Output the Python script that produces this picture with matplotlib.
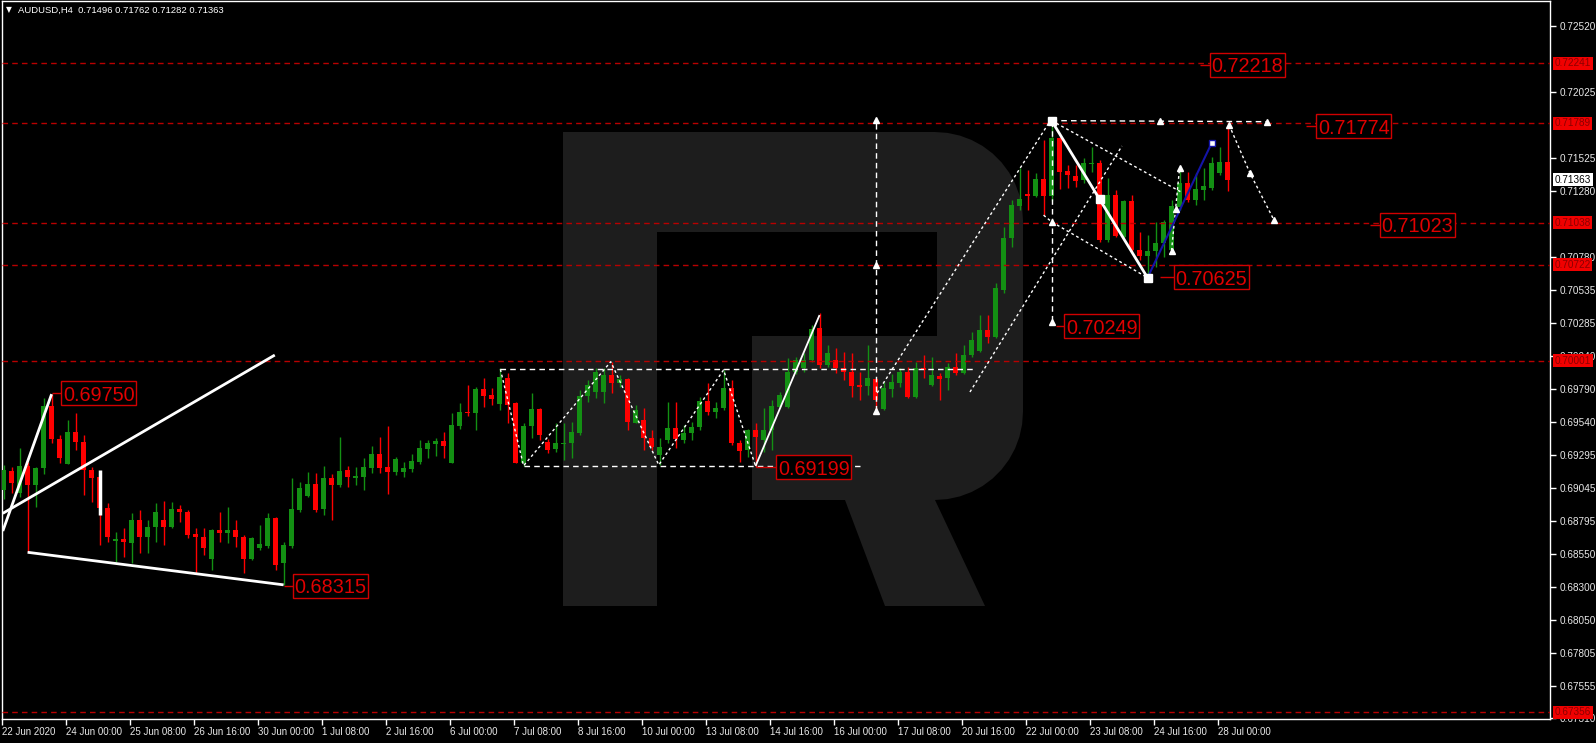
"""AUDUSD H4 chart, MT4 style"""
import numpy as np
import matplotlib
matplotlib.use("Agg")
import matplotlib.pyplot as plt
from matplotlib import font_manager
from matplotlib.patches import Rectangle, Polygon

W, H = 1596, 743

# ---- data -------------------------------------------------------------
opens = [0.69028, 0.69171, 0.69008, 0.69209, 0.69066, 0.69191, 0.69660, 0.69410, 0.69224, 0.69462,
         0.69392, 0.69179, 0.69129, 0.68891, 0.68645, 0.68660, 0.68632, 0.68803, 0.68677, 0.68748,
         0.68803, 0.68753, 0.68886, 0.68860, 0.68697, 0.68677, 0.68509, 0.68728, 0.68707, 0.68728,
         0.68677, 0.68509, 0.68595, 0.68610, 0.68815, 0.68477, 0.68610, 0.68878, 0.68986, 0.69074,
         0.68883, 0.69121, 0.69066, 0.69179, 0.69121, 0.69129, 0.69197, 0.69299, 0.69204, 0.69164,
         0.69164, 0.69184, 0.69242, 0.69340, 0.69375, 0.69397, 0.69234, 0.69510, 0.69618, 0.69611,
         0.69789, 0.69743, 0.69676, 0.69869, 0.69681, 0.69234, 0.69510, 0.69636, 0.69392, 0.69335,
         0.69378, 0.69380, 0.69460, 0.69736, 0.69769, 0.69769, 0.69894, 0.69831, 0.69861, 0.69535,
         0.69555, 0.69417, 0.69290, 0.69405, 0.69493, 0.69405, 0.69455, 0.69500, 0.69698, 0.69618,
         0.69643, 0.69794, 0.69380, 0.69329, 0.69480, 0.69405, 0.69480, 0.69656, 0.69656, 0.69919,
         0.69944, 0.70007, 0.70245, 0.69969, 0.70007, 0.69944, 0.69919, 0.69819, 0.69811, 0.69861,
         0.69636, 0.69786, 0.69836, 0.69919, 0.69731, 0.69944, 0.69819, 0.69886, 0.69869, 0.69957,
         0.69912, 0.70044, 0.70077, 0.70233, 0.70177, 0.70534, 0.70922, 0.71168, 0.71253, 0.71241,
         0.71369, 0.71241, 0.71675, 0.71431, 0.71391, 0.71361, 0.71480, 0.71487, 0.70910, 0.71248,
         0.70935, 0.71206, 0.70835, 0.70789, 0.70830, 0.70885, 0.70835, 0.71161, 0.71336, 0.71211,
         0.71286, 0.71299, 0.71416, 0.71496]
highs = [0.69217, 0.69204, 0.69342, 0.69242, 0.69204, 0.69720, 0.69750, 0.69442, 0.69555, 0.69610,
         0.69442, 0.69204, 0.69160, 0.68928, 0.68715, 0.68740, 0.68853, 0.68878, 0.68803, 0.68928,
         0.68946, 0.68936, 0.68916, 0.68878, 0.68740, 0.68740, 0.68733, 0.68866, 0.68903, 0.68803,
         0.68690, 0.68677, 0.68765, 0.68853, 0.68828, 0.68640, 0.69116, 0.69091, 0.69167, 0.69154,
         0.69209, 0.69149, 0.69430, 0.69209, 0.69204, 0.69267, 0.69360, 0.69430, 0.69510, 0.69275,
         0.69240, 0.69299, 0.69405, 0.69405, 0.69422, 0.69468, 0.69605, 0.69681, 0.69819, 0.69806,
         0.69869, 0.69794, 0.69944, 0.69907, 0.69693, 0.69530, 0.69756, 0.69643, 0.69410, 0.69530,
         0.69530, 0.69543, 0.69781, 0.69856, 0.69944, 0.69944, 0.69994, 0.69894, 0.69869, 0.69668,
         0.69643, 0.69480, 0.69417, 0.69693, 0.69693, 0.69518, 0.69543, 0.69731, 0.69831, 0.69693,
         0.69932, 0.69856, 0.69405, 0.69485, 0.69530, 0.69643, 0.69706, 0.69769, 0.70019, 0.70030,
         0.70057, 0.70270, 0.70358, 0.70120, 0.70100, 0.70070, 0.70057, 0.69919, 0.70120, 0.69869,
         0.69844, 0.69900, 0.69944, 0.69957, 0.69994, 0.70044, 0.70032, 0.69912, 0.69982, 0.70057,
         0.70120, 0.70220, 0.70345, 0.70345, 0.70589, 0.71010, 0.71211, 0.71449, 0.71437, 0.71411,
         0.71662, 0.71808, 0.71687, 0.71474, 0.71474, 0.71524, 0.71612, 0.71512, 0.71374, 0.71286,
         0.71211, 0.71248, 0.70973, 0.70947, 0.71048, 0.71060, 0.71211, 0.71462, 0.71424, 0.71411,
         0.71449, 0.71537, 0.71612, 0.71762]
lows = [0.68960, 0.69003, 0.68978, 0.68564, 0.68903, 0.69150, 0.69380, 0.69229, 0.69224, 0.69329,
        0.68991, 0.68941, 0.68615, 0.68640, 0.68489, 0.68527, 0.68477, 0.68552, 0.68552, 0.68640,
        0.68615, 0.68740, 0.68790, 0.68665, 0.68402, 0.68539, 0.68427, 0.68640, 0.68627, 0.68602,
        0.68402, 0.68502, 0.68577, 0.68590, 0.68427, 0.68315, 0.68590, 0.68866, 0.68978, 0.68866,
        0.68841, 0.68803, 0.69049, 0.69049, 0.69066, 0.69029, 0.69154, 0.69160, 0.68999, 0.69142,
        0.69124, 0.69167, 0.69224, 0.69267, 0.69285, 0.69267, 0.69229, 0.69485, 0.69585, 0.69480,
        0.69656, 0.69668, 0.69631, 0.69535, 0.69229, 0.69212, 0.69417, 0.69405, 0.69304, 0.69317,
        0.69254, 0.69267, 0.69443, 0.69693, 0.69718, 0.69681, 0.69756, 0.69806, 0.69480, 0.69530,
        0.69329, 0.69329, 0.69217, 0.69380, 0.69342, 0.69380, 0.69405, 0.69480, 0.69593, 0.69568,
        0.69631, 0.69367, 0.69242, 0.69280, 0.69199, 0.69317, 0.69330, 0.69643, 0.69643, 0.69900,
        0.69919, 0.69994, 0.69944, 0.69957, 0.69907, 0.69858, 0.69731, 0.69706, 0.69744, 0.69630,
        0.69630, 0.69731, 0.69806, 0.69718, 0.69718, 0.69869, 0.69811, 0.69706, 0.69781, 0.69894,
        0.69900, 0.70030, 0.70070, 0.70132, 0.70170, 0.70509, 0.70860, 0.71136, 0.71136, 0.71236,
        0.71098, 0.71200, 0.71291, 0.71299, 0.71306, 0.71336, 0.71424, 0.70897, 0.70897, 0.70935,
        0.70922, 0.70822, 0.70760, 0.70625, 0.70709, 0.70784, 0.70822, 0.71136, 0.71198, 0.71173,
        0.71211, 0.71286, 0.71399, 0.71282]
closes = [0.69179, 0.69084, 0.69209, 0.69066, 0.69191, 0.69660, 0.69410, 0.69267, 0.69462, 0.69392,
          0.69179, 0.69116, 0.68891, 0.68677, 0.68660, 0.68635, 0.68803, 0.68677, 0.68748, 0.68860,
          0.68753, 0.68886, 0.68860, 0.68690, 0.68672, 0.68595, 0.68728, 0.68707, 0.68728, 0.68677,
          0.68509, 0.68670, 0.68620, 0.68815, 0.68464, 0.68615, 0.68883, 0.69046, 0.69074, 0.68878,
          0.69121, 0.69066, 0.69172, 0.69124, 0.69134, 0.69204, 0.69299, 0.69197, 0.69164, 0.69259,
          0.69197, 0.69247, 0.69347, 0.69385, 0.69397, 0.69360, 0.69518, 0.69618, 0.69605, 0.69789,
          0.69736, 0.69711, 0.69876, 0.69668, 0.69234, 0.69510, 0.69636, 0.69443, 0.69329, 0.69380,
          0.69382, 0.69468, 0.69736, 0.69819, 0.69919, 0.69894, 0.69831, 0.69861, 0.69543, 0.69631,
          0.69417, 0.69350, 0.69350, 0.69493, 0.69410, 0.69460, 0.69500, 0.69698, 0.69618, 0.69643,
          0.69794, 0.69380, 0.69325, 0.69480, 0.69430, 0.69480, 0.69661, 0.69744, 0.69919, 0.70007,
          0.70007, 0.70238, 0.69969, 0.70057, 0.69944, 0.69919, 0.69811, 0.69806, 0.69869, 0.69706,
          0.69794, 0.69844, 0.69919, 0.69731, 0.69944, 0.69932, 0.69894, 0.69861, 0.69957, 0.69912,
          0.70044, 0.70157, 0.70233, 0.70177, 0.70546, 0.70922, 0.71173, 0.71218, 0.71241, 0.71369,
          0.71241, 0.71675, 0.71424, 0.71399, 0.71356, 0.71487, 0.71487, 0.70910, 0.71248, 0.70940,
          0.71206, 0.70835, 0.70789, 0.70830, 0.70890, 0.71048, 0.71166, 0.71336, 0.71211, 0.71291,
          0.71316, 0.71487, 0.71499, 0.71363]

date_labels = ["22 Jun 2020", "24 Jun 00:00", "25 Jun 08:00", "26 Jun 16:00", "30 Jun 00:00",
               "1 Jul 08:00", "2 Jul 16:00", "6 Jul 00:00", "7 Jul 08:00", "8 Jul 16:00",
               "10 Jul 00:00", "13 Jul 08:00", "14 Jul 16:00", "16 Jul 00:00", "17 Jul 08:00",
               "20 Jul 16:00", "22 Jul 00:00", "23 Jul 08:00", "24 Jul 16:00", "28 Jul 00:00"]
date_bars = list(range(0, 160, 8))

# tick labels that are not hidden under the level boxes
price_ticks = [0.72520, 0.72025, 0.71525, 0.71280, 0.70780, 0.70535,
               0.70285, 0.70040, 0.69790, 0.69540, 0.69295, 0.69045, 0.68795, 0.68550, 0.68300,
               0.68050, 0.67805, 0.67555, 0.67310]
level_prices = [0.72241, 0.71789, 0.71038, 0.70722, 0.70001, 0.67356]
last_price = 0.71363

# price label objects: (text, left bar, price, leader start bar)
price_labels = [("0.69750", 7.2, 0.69755, 6.0), ("0.68315", 36.2, 0.68310, 35.0),
                ("0.69199", 96.6, 0.69198, 94.0), ("0.72218", 150.8, 0.72230, 149.6),
                ("0.71774", 164.1, 0.71764, 162.8), ("0.71023", 172.0, 0.71026, 170.8),
                ("0.70625", 146.3, 0.70628, 144.6), ("0.70249", 132.6, 0.70259, 131.5)]

# ---- fonts ------------------------------------------------------------
names = {f.name for f in font_manager.fontManager.ttflist}
NARROW = "Liberation Sans Narrow" if "Liberation Sans Narrow" in names else "Liberation Sans"
FAM = [NARROW, "DejaVu Sans"]
is_narrow = NARROW.endswith("Narrow")
YSIZE = 8.3 if is_narrow else 7.2
XSIZE = 8.0 if is_narrow else 7.0
BIG = 16.5 if is_narrow else 14.3

GREEN = "#139013"
RED = "#ff0000"
LEVEL = "#b80000"
GRAY = "#1d1d1d"

fig = plt.figure(figsize=(W / 100, H / 100), dpi=100, facecolor="black")
ax = fig.add_axes([2 / W, 1 - 719 / H, 1548 / W, 718 / H], facecolor="black")
ax.set_xlim(-0.1875, 193.31)
ax.set_ylim(0.673056, 0.727081)


def px(x, y):
    return (x / W, 1 - y / H)


# ---- background logo ------------------------------------------------------
def arc(cx, cy, r, a0, a1, n=12):
    t = np.radians(np.linspace(a0, a1, n))
    return [(cx + r * np.cos(t_), cy - r * np.sin(t_)) for t_ in t]

stem = [(563, 132), (657, 132), (657, 606), (563, 606)]
bowl = ([(657, 132), (935, 132)] + arc(935, 220, 88, 90, 0) + arc(935, 412, 88, 0, -90)
        + [(752, 500), (752, 336), (937, 336), (937, 232), (657, 232)])
leg = [(845, 500), (935, 500), (985, 606), (885, 606)]
for shape in (stem, bowl, leg):
    ax.add_patch(Polygon([px(*p) for p in shape], closed=True, transform=fig.transFigure,
                         facecolor=GRAY, edgecolor="none", zorder=0))

# ---- candles ----------------------------------------------------------
o = np.array(opens)
c = np.array(closes)
hi = np.array(highs)
lo = np.array(lows)
idx = np.arange(len(o))
cols = np.where(c >= o, GREEN, RED)
ax.vlines(idx, lo, hi, colors=cols, linewidth=1, zorder=3)
body_h = np.maximum(np.abs(c - o), 0.00006)
ax.bar(idx, body_h, bottom=np.minimum(o, c), width=0.66, color=cols, linewidth=0, zorder=3)

# ---- horizontal levels ----------------------------------------------------
for lv in level_prices:
    ax.axhline(lv, color=LEVEL, linewidth=1, linestyle=(0, (4, 3)), zorder=4)

# ---- drawings ---------------------------------------------------------
WH = "white"
dot = (0, (2, 2))
dash = (0, (4, 3))

def seg(xs, ys, **kw):
    ax.plot(xs, ys, **kw, zorder=5, solid_capstyle="butt")

# left part
seg([-0.1, 6.0], [0.68720, 0.69750], color=WH, lw=2)
seg([-0.1, 33.9], [0.68853, 0.70044], color=WH, lw=2)
seg([3.0, 35.0], [0.68560, 0.68315], color=WH, lw=2)
seg([12, 12], [0.68841, 0.69179], color=WH, lw=2.5)

# triangle / range
seg([62.1, 121.4], [0.69940, 0.69940], color=WH, lw=1, ls=dash)
seg([65.0, 107.1], [0.69211, 0.69211], color=WH, lw=1, ls=dash)
seg([62.1, 65.0, 75.9, 81.9, 90.0, 94.0], [0.69937, 0.69211, 0.69994, 0.69217, 0.69932, 0.69209],
    color=WH, lw=1, ls=dot)
seg([94.0, 102.0], [0.69209, 0.70345], color=WH, lw=1.3)

# vertical measure at 16 Jul
seg([109, 109], [0.69623, 0.71813], color=WH, lw=1, ls=dash)
ax.plot([109, 109, 109], [0.69623, 0.70722, 0.71813], ls="none", marker="^", ms=4,
        color=WH, zorder=6)

# channel
seg([109.2, 130.9], [0.69759, 0.71813], color=WH, lw=1, ls=dot)
seg([120.8, 139.8], [0.69766, 0.71617], color=WH, lw=1, ls=dot)

# 22 Jul high structure
seg([131, 157.9], [0.71808, 0.71800], color=WH, lw=1, ls=dash)
ax.plot([144.6, 157.9], [0.71805, 0.71800], ls="none", marker="^", ms=4, color=WH, zorder=6)
seg([131, 131], [0.71808, 0.70293], color=WH, lw=1, ls=dash)
ax.plot([131, 131], [0.71047, 0.70293], ls="none", marker="^", ms=4, color=WH, zorder=6)
seg([131, 147.1], [0.71808, 0.71274], color=WH, lw=1, ls=dot)
seg([130.0, 131, 143], [0.71097, 0.71047, 0.70626], color=WH, lw=1, ls=dot)
seg([131, 143], [0.71808, 0.70626], color=WH, lw=2)
ax.plot([131, 137, 143], [0.71808, 0.71218, 0.70626], ls="none", marker="s", ms=6,
        color=WH, zorder=6)
seg([146.0, 147.0], [0.70829, 0.71449], color=WH, lw=1, ls=dot)
ax.plot([146.0, 146.6, 147.0], [0.70829, 0.71141, 0.71449], ls="none", marker="^", ms=4,
        color=WH, zorder=6)
seg([143, 151.0], [0.70626, 0.71637], color="#1414a8", lw=1.5)
ax.plot([151.0], [0.71637], ls="none", marker="s", ms=4, mfc=WH, mec="#1414a8", zorder=6)
seg([153.2, 155.8, 158.8], [0.71775, 0.71414, 0.71060], color=WH, lw=1, ls=dot)
ax.plot([153.2, 155.8, 158.8], [0.71775, 0.71414, 0.71060], ls="none", marker="^", ms=4,
        color=WH, zorder=6)

# price labels
bar_px = 8.0
ppx = 1 / 13290
for txt, xl, pr, xs in price_labels:
    wbars = 75 / bar_px
    hpr = 24 * ppx
    ax.add_patch(Rectangle((xl, pr - hpr / 2), wbars, hpr, facecolor="black",
                           edgecolor="#d00000", linewidth=1, zorder=7))
    ax.text(xl + wbars / 2, pr, txt, color="#e00000", fontsize=BIG, family=FAM,
            ha="center", va="center_baseline", zorder=8)
    seg([xs, xl], [pr, pr], color="#d00000", lw=1)

# ---- axes styling -------------------------------------------------------
for sp in ax.spines.values():
    sp.set_color("white")
    sp.set_linewidth(1)

ax.yaxis.tick_right()
ax.set_yticks(price_ticks)
ax.set_yticklabels([f"{p:.5f}" for p in price_ticks])
ax.tick_params(axis="y", colors="white", direction="out", length=4, width=1, pad=3,
               labelsize=YSIZE, labelcolor="#e8e8e8")
ax.set_xticks([b - 0.2 for b in date_bars])
ax.set_xticklabels(date_labels)
ax.tick_params(axis="x", colors="white", direction="out", length=4, width=1, pad=2,
               labelsize=XSIZE, labelcolor="#e8e8e8")
for lab in ax.get_xticklabels() + ax.get_yticklabels():
    lab.set_family(FAM)
for lab in ax.get_xticklabels():
    lab.set_ha("left")

ytr = ax.get_yaxis_transform()
for lv in level_prices:
    ax.text(1.0030, lv, f"{lv:.5f}", transform=ytr, color="#8a0000", fontsize=YSIZE, family=FAM,
            ha="left", va="center", clip_on=False, zorder=9,
            bbox=dict(boxstyle="square,pad=0.15", fc="#f00000", ec="none"))
ax.text(1.0030, last_price, f"{last_price:.5f}", transform=ytr, color="black", fontsize=YSIZE,
        family=FAM, ha="left", va="center", clip_on=False, zorder=9,
        bbox=dict(boxstyle="square,pad=0.15", fc="white", ec="none"))

# header
fig.text(*px(6, 10), "\u25bc", color="white", fontsize=5.5, family="DejaVu Sans", va="center")
fig.text(*px(18, 10), "AUDUSD,H4  0.71496 0.71762 0.71282 0.71363", color="white",
         fontsize=6.8, family=FAM, va="center")

fig.savefig("out.png", dpi=100, facecolor="black")
